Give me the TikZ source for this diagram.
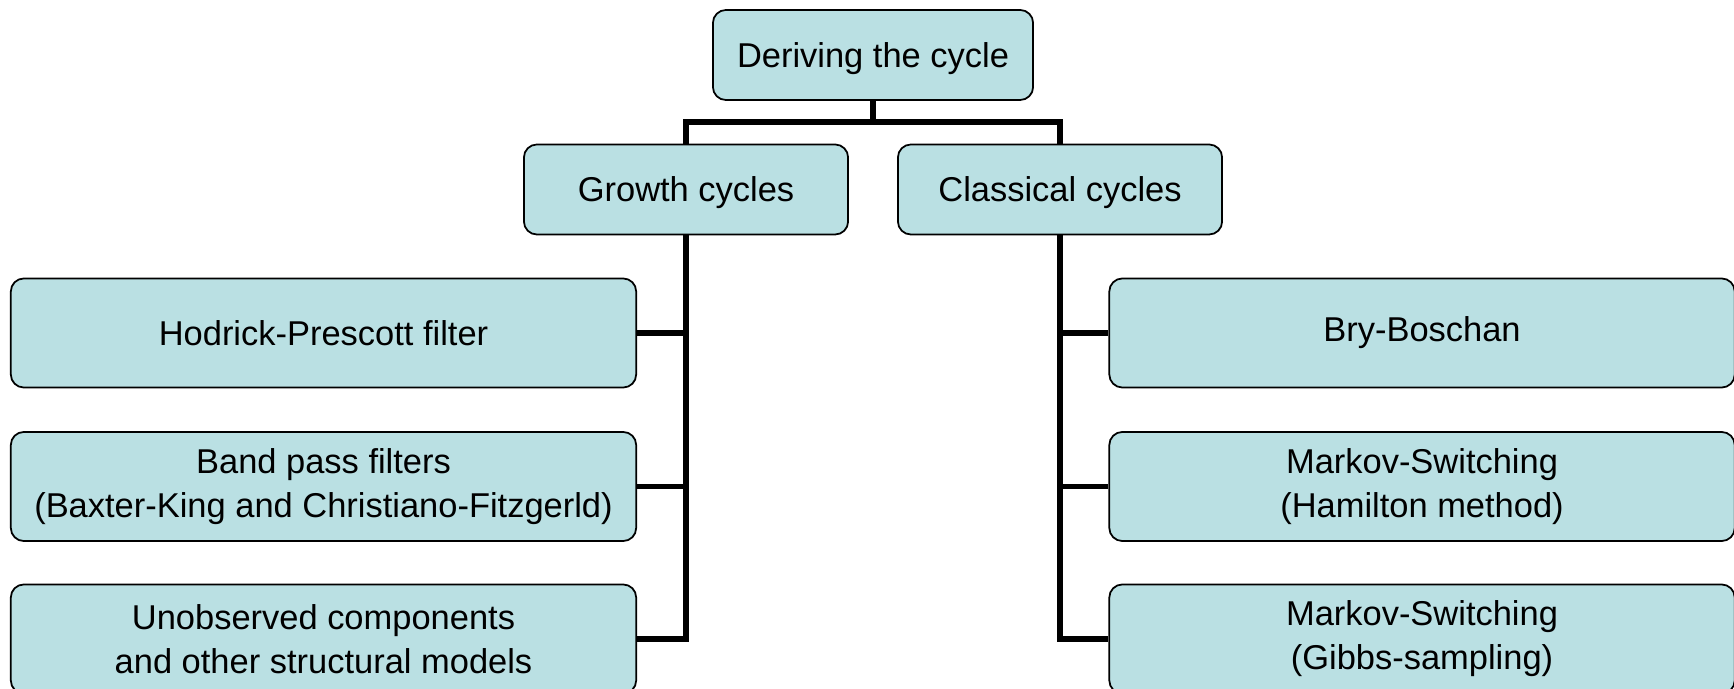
\documentclass[tikz,border=0pt]{standalone}
\usepackage{fontspec}
\setmainfont{Liberation Sans}
\usepackage{xcolor}
\usepackage{tikz}
\usetikzlibrary{calc}
\definecolor{cyclefill}{RGB}{186,224,227}

\begin{document}
\begin{tikzpicture}[x=0.01cm, y=-0.01cm,
    box/.style={draw=black, line width=0.5pt, fill=cyclefill, rounded corners=0.13cm,
      inner sep=0pt, align=center, font=\fontsize{9.8}{12.5}\selectfont},
    head/.style={box, text depth=0pt, minimum height=0.9cm},
    leaf/.style={box, minimum width=6.25cm, minimum height=1.09cm},
    link/.style={line width=1.7pt}]
  \useasboundingbox (0,0) rectangle (1734,689);
  \node[head, minimum width=3.2cm] (root) at (873,55) {Deriving the cycle};
  \node[head, minimum width=3.24cm] (gc) at (686,189.5) {Growth cycles};
  \node[head, minimum width=3.24cm] (cc) at (1060,189.5) {Classical cycles};
  % growth side
  \foreach \i/\yy/\lab in {1/333/{Hodrick-Prescott filter},
                           2/486.5/{Band pass filters\\(Baxter-King and Christiano-Fitzgerld)},
                           3/639/{Unobserved components\\and other structural models}}{
    \node[leaf] (gr\i) at (323.5,\yy) {\lab};
  }
  % classical side
  \foreach \i/\yy/\lab in {1/333/{Bry-Boschan},
                           2/486.5/{Markov-Switching\\(Hamilton method)},
                           3/639/{Markov-Switching\\(Gibbs-sampling)}}{
    \node[leaf] (cl\i) at (1422,\yy) {\lab};
  }
  % connectors
  \draw[link] (gc.north) -- ++(0,-22) coordinate (bar) -| (cc.north);
  \draw[link] (root.south) -- (root.south |- bar);
  \draw[link] (gc.south) |- (gr3.east);
  \draw[link] (cc.south) |- (cl3.west);
  \foreach \i in {1,2}{
    \draw[link] (gr\i.east) -- (gr\i.east -| gc.south);
    \draw[link] (cl\i.west) -- (cl\i.west -| cc.south);
  }
\end{tikzpicture}
\end{document}
